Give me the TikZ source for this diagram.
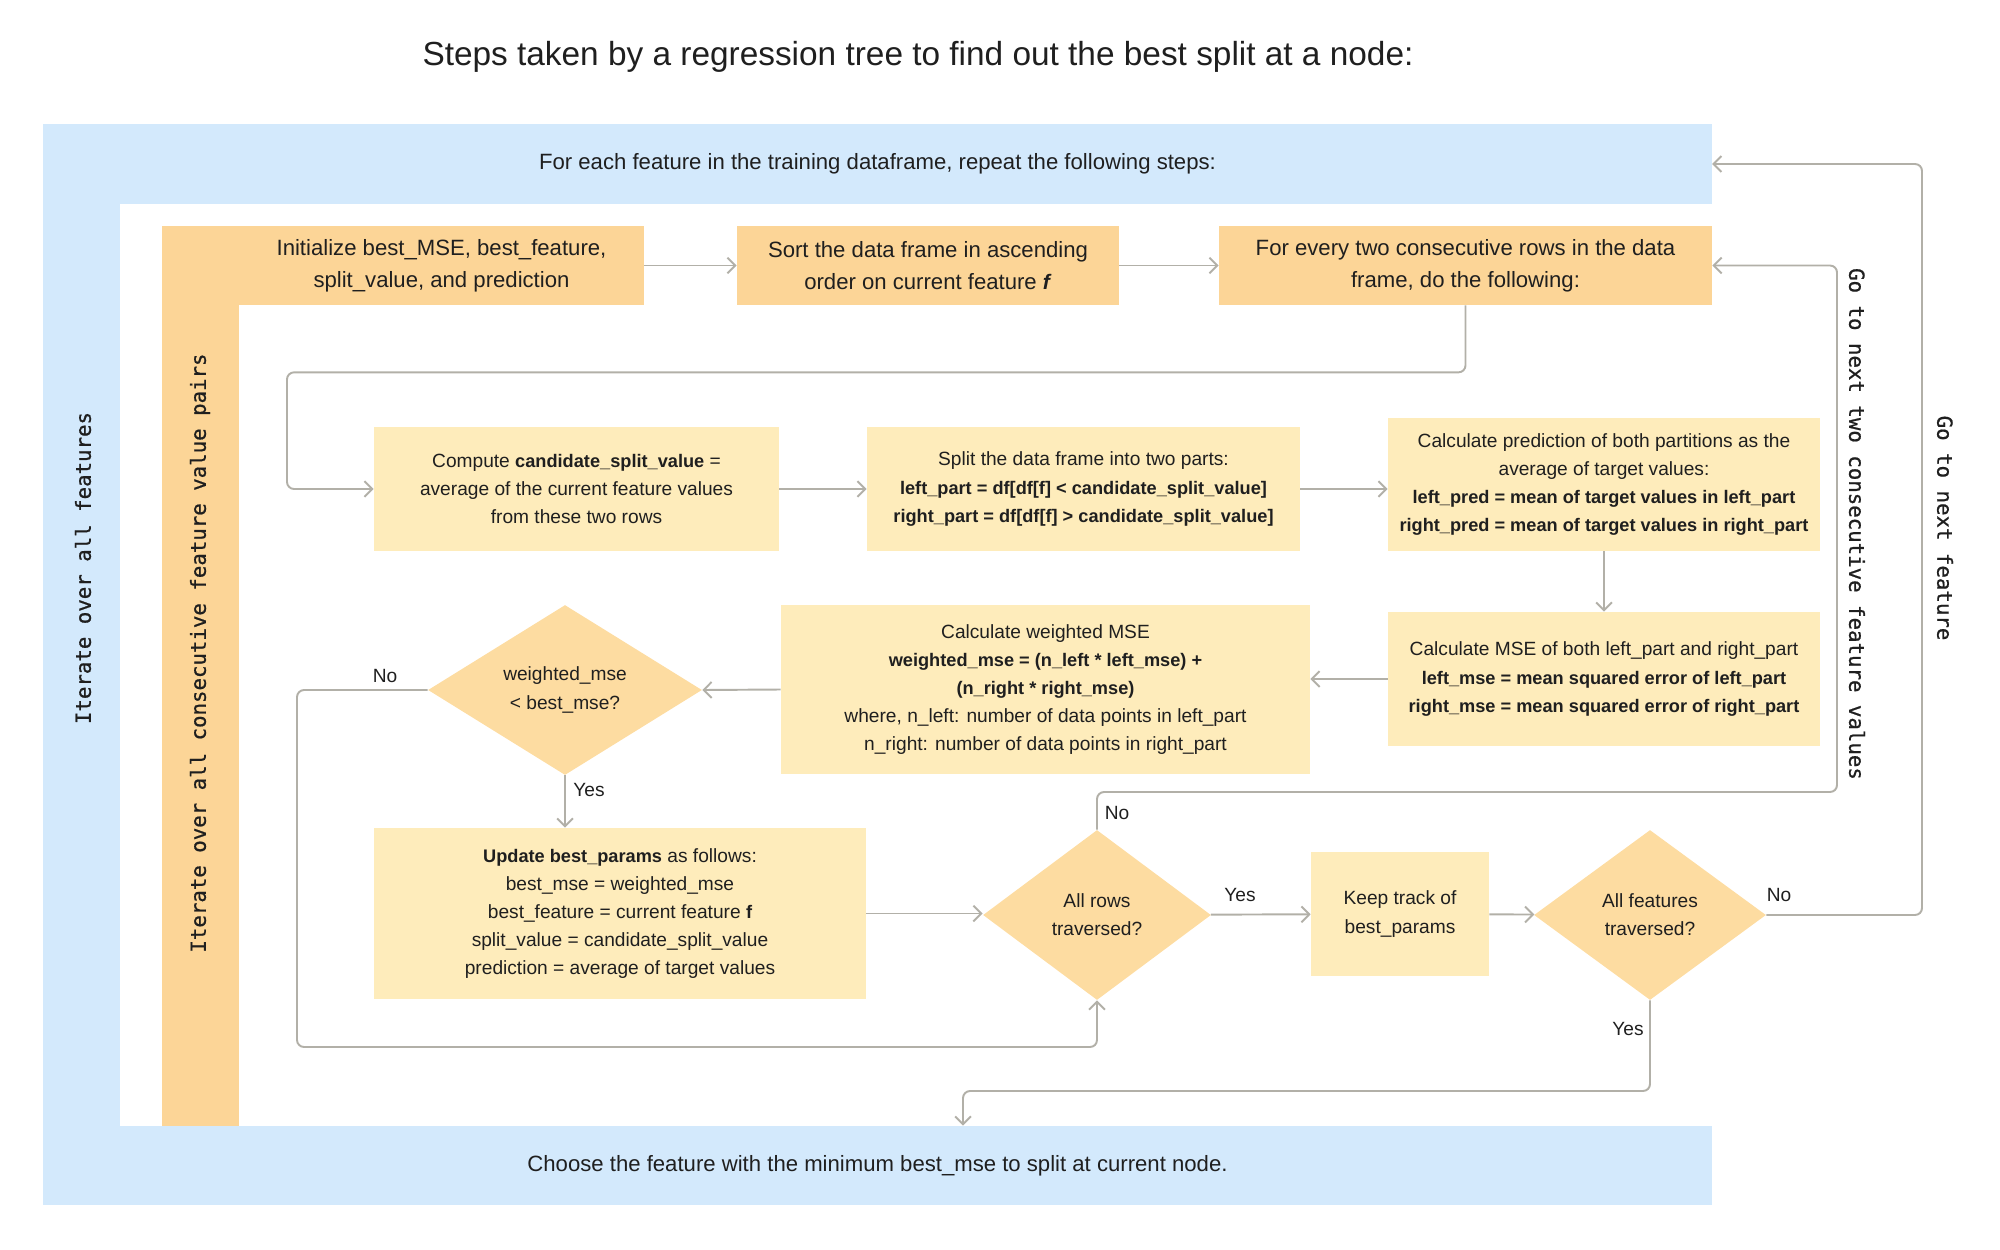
\documentclass[tikz,border=0pt]{standalone}
\usepackage{fontspec}
\setmainfont{Liberation Sans}[BoldFeatures={Scale=0.95}, BoldItalicFeatures={Scale=0.95}]
\newfontfamily\loopfont[FakeBold=0.8]{DejaVu Sans Mono}
\usetikzlibrary{shapes.geometric, arrows.meta, positioning}
\definecolor{bandblue}{HTML}{D3E9FC}
\definecolor{looporange}{HTML}{FCD597}
\definecolor{stepyellow}{HTML}{FEECBB}
\definecolor{decisionorange}{HTML}{FDDCA1}
\definecolor{linegray}{HTML}{B2B0A8}
\definecolor{inkdark}{HTML}{1F1F1F}
\tikzstyle{band} = [rectangle, fill=bandblue, text=inkdark, inner sep=0pt, minimum width=33.38cm, font=\fontsize{12.6}{18}\selectfont]
\tikzstyle{loopbox} = [rectangle, fill=looporange, text=inkdark, align=center, inner sep=0pt, minimum height=1.58cm, font=\fontsize{12.6}{18}\selectfont]
\tikzstyle{stepbox} = [rectangle, fill=stepyellow, text=inkdark, align=center, inner sep=0pt, font=\fontsize{10.9}{16}\selectfont]
\tikzstyle{decision} = [diamond, fill=decisionorange, text=inkdark, align=center, inner sep=0pt, minimum height=3.4cm, font=\fontsize{10.9}{16}\selectfont]
\tikzstyle{looptext} = [text=inkdark, inner sep=0pt, font=\loopfont\fontsize{11.8}{14}\selectfont]
\tikzstyle{answer} = [text=inkdark, inner sep=0pt, font=\fontsize{10.9}{12}\selectfont]
\tikzstyle{arrow} = [draw=linegray, line width=1.1pt, rounded corners=4pt, -{Straight Barb[length=4.5pt,width=9pt]}]

\begin{document}
\begin{tikzpicture}[x=0.02cm, y=-0.02cm]
    \useasboundingbox (0,0) rectangle (2000,1250);
    \node[font=\fontsize{19}{22}\selectfont, text=inkdark] (title) at (918,57) {Steps taken by a regression tree to find out the best split at a node:};

    % outer loop over features
    \fill[bandblue] (43,124) rectangle (120,1205);
    \node[band, minimum height=1.6cm] (topband) at (877.5,164) {For each feature in the training dataframe, repeat the following steps:};
    \node[band, minimum height=1.58cm] (bottomband) at (877.5,1165.5) {Choose the feature with the minimum best\_mse to split at current node.};
    \node[looptext, rotate=90] (featloop) at (83,568) {Iterate over all features};

    % inner loop over value pairs
    \fill[looporange] (162,226) rectangle (239,1126);
    \node[looptext, rotate=90] (pairloop) at (200,653) {Iterate over all consecutive feature value pairs};
    \node[loopbox, minimum width=8.1cm] (init) at (441.5,265.5) {Initialize best\_MSE, best\_feature,\\split\_value, and prediction};
    \node[loopbox, minimum width=7.64cm] (sort) at (928,265.5) {Sort the data frame in ascending\\order on current feature \textbf{\textit{f}}};
    \node[loopbox, minimum width=9.86cm] (every) at (1465.5,265.5) {For every two consecutive rows in the data\\frame, do the following:};

    \node[stepbox, minimum width=8.1cm, minimum height=2.48cm] (compute) at (576.5,489) {Compute \textbf{candidate\_split\_value} =\\average of the current feature values\\from these two rows};
    \node[stepbox, minimum width=8.66cm, minimum height=2.48cm] (split) at (1083.5,489) {Split the data frame into two parts:\\\textbf{left\_part = df[df[f] < candidate\_split\_value]}\\\textbf{right\_part = df[df[f] > candidate\_split\_value]}};
    \node[stepbox, minimum width=8.64cm, minimum height=2.66cm] (calcpred) at (1604,484.5) {Calculate prediction of both partitions as the\\average of target values:\\\textbf{left\_pred = mean of target values in left\_part}\\\textbf{right\_pred = mean of target values in right\_part}};
    \node[stepbox, minimum width=8.64cm, minimum height=2.68cm] (calcmse) at (1604,679) {Calculate MSE of both left\_part and right\_part\\\textbf{left\_mse = mean squared error of left\_part}\\\textbf{right\_mse = mean squared error of right\_part}};
    \node[stepbox, minimum width=10.58cm, minimum height=3.38cm] (weighted) at (1045.5,689.5) {Calculate weighted MSE\\\textbf{weighted\_mse = (n\_left * left\_mse) +}\\\textbf{(n\_right * right\_mse)}\\where, n\_left: number of data points in left\_part\\n\_right: number of data points in right\_part};
    \node[decision, minimum width=5.48cm] (better) at (565,690) {weighted\_mse\\< best\_mse?};
    \node[stepbox, minimum width=9.84cm, minimum height=3.42cm] (update) at (620,913.5) {\textbf{Update best\_params} as follows:\\best\_mse = weighted\_mse\\best\_feature = current feature \textbf{f}\\split\_value = candidate\_split\_value\\prediction = average of target values};
    \node[decision, minimum width=4.56cm] (rowsdone) at (1097,915) {All rows\\traversed?};
    \node[stepbox, minimum width=3.56cm, minimum height=2.48cm] (keep) at (1400,914) {Keep track of\\best\_params};
    \node[decision, minimum width=4.64cm] (featsdone) at (1650,915) {All features\\traversed?};

    \draw[arrow] (init) -- (sort);
    \draw[arrow] (sort) -- (every);
    \draw[arrow] (every.south) -- ++(0,67) -| (287,489) -- (compute.west);
    \draw[arrow] (compute) -- (split);
    \draw[arrow] (split.east) -- (split.east -| calcpred.west);
    \draw[arrow] (calcpred) -- (calcmse);
    \draw[arrow] (calcmse.west) -- (calcmse.west -| weighted.east);
    \draw[arrow] (weighted.west) -- (better.east);
    \draw[arrow] (better.west) -| (297,1047) -| (rowsdone.south);
    \draw[arrow] (better.south) -- (better.south |- update.north);
    \draw[arrow] (update.east) -- (update.east -| rowsdone.west);
    \draw[arrow] (rowsdone) -- (keep);
    \draw[arrow] (keep) -- (featsdone);
    \draw[arrow] (rowsdone.north) |- (1837,792) |- (every.east);
    \draw[arrow] (featsdone.east) -| (1922,164) -- (topband.east);
    \coordinate (choosein) at (963,1091);
    \draw[arrow] (featsdone.south) |- (choosein) -- (choosein |- bottomband.north);

    \node[looptext, rotate=-90] (nextpair) at (1857,524) {Go to next two consecutive feature values};
    \node[looptext, rotate=-90] (nextfeat) at (1945,528) {Go to next feature};

    \node[answer] (betterno) at (385,676) {No};
    \node[answer] (betteryes) at (589,790) {Yes};
    \node[answer] (rowsno) at (1117,813) {No};
    \node[answer] (rowsyes) at (1240,895) {Yes};
    \node[answer] (featsno) at (1779,895) {No};
    \node[answer] (featsyes) at (1628,1029) {Yes};
\end{tikzpicture}
\end{document}
